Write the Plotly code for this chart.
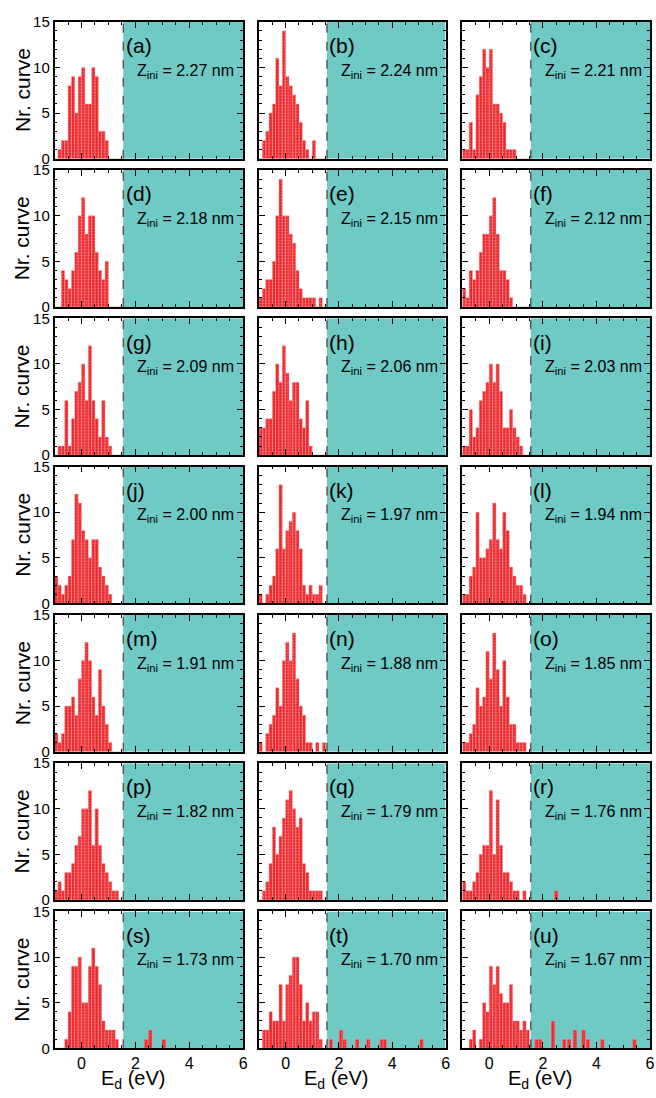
import plotly.graph_objects as go

# ---------------- data ----------------
BIN_START = -1.0          # left edge of first histogram bin (eV)
BIN_W = 0.125             # histogram bin width (eV)
OUT_W = 0.14              # width of isolated high-energy bars (eV)
E_CUT = 1.55              # dashed threshold (eV)

panel_labels = ["a", "b", "c", "d", "e", "f", "g", "h", "i", "j", "k",
                "l", "m", "n", "o", "p", "q", "r", "s", "t", "u"]
z_ini = ["2.27", "2.24", "2.21", "2.18", "2.15", "2.12", "2.09", "2.06", "2.03",
         "2.00", "1.97", "1.94", "1.91", "1.88", "1.85", "1.82", "1.79", "1.76",
         "1.73", "1.70", "1.67"]

counts_a = [0, 1, 2, 2, 8, 9, 5, 9, 10, 6, 6, 10, 9, 3, 3, 2, 0, 0, 0, 0]
counts_b = [0, 2, 3, 5, 6, 11, 8, 14, 9, 8, 7, 6, 4, 2, 1, 0, 2, 0, 0, 0]
counts_c = [1, 1, 4, 1, 7, 9, 12, 10, 12, 6, 6, 5, 4, 1, 1, 1, 0, 0, 0, 0]
counts_d = [0, 0, 4, 3, 2, 4, 6, 10, 12, 8, 10, 10, 6, 4, 3, 5, 0, 0, 0, 0]
counts_e = [1, 2, 3, 3, 5, 10, 14, 10, 10, 8, 7, 4, 2, 1, 1, 1, 1, 0, 1, 0]
counts_f = [2, 1, 4, 3, 4, 6, 8, 8, 10, 12, 8, 4, 4, 3, 1, 0, 0, 0, 0, 0]
counts_g = [0, 1, 1, 6, 1, 4, 7, 8, 10, 6, 12, 6, 4, 2, 6, 2, 1, 0, 0, 0]
counts_h = [3, 3, 4, 4, 7, 10, 8, 12, 9, 6, 8, 8, 4, 3, 6, 1, 0, 0, 0, 0]
counts_i = [1, 1, 5, 2, 3, 6, 7, 8, 10, 8, 10, 7, 3, 3, 5, 3, 2, 1, 0, 0]
counts_j = [3, 2, 1, 2, 3, 7, 12, 11, 8, 7, 5, 7, 7, 4, 3, 2, 1, 0, 0, 0]
counts_k = [1, 0, 1, 2, 3, 6, 13, 6, 8, 9, 10, 8, 6, 2, 1, 2, 1, 1, 2, 0]
counts_l = [1, 1, 3, 4, 10, 5, 5, 6, 7, 11, 7, 6, 10, 8, 4, 3, 2, 2, 1, 0]
counts_m = [2, 1, 2, 5, 5, 6, 4, 8, 10, 12, 10, 6, 4, 9, 5, 3, 1, 0, 0, 0]
counts_n = [1, 0, 2, 3, 4, 7, 5, 10, 12, 10, 13, 8, 5, 4, 1, 1, 0, 1, 0, 1]
counts_o = [1, 1, 2, 3, 7, 5, 6, 11, 8, 13, 9, 5, 10, 6, 3, 3, 1, 1, 1, 0]
counts_p = [1, 2, 1, 3, 3, 4, 6, 7, 10, 10, 12, 6, 10, 6, 4, 3, 2, 1, 1, 0]
counts_q = [0, 1, 2, 4, 8, 5, 7, 9, 11, 12, 10, 8, 9, 4, 3, 1, 1, 1, 1, 0]
counts_r = [2, 1, 1, 2, 3, 5, 6, 6, 12, 5, 11, 6, 3, 3, 2, 1, 1, 0, 1, 0]
counts_s = [0, 0, 0, 1, 4, 9, 9, 10, 5, 5, 9, 11, 9, 7, 3, 2, 2, 2, 1, 0]
counts_t = [0, 2, 2, 4, 3, 3, 7, 3, 7, 8, 10, 10, 7, 3, 5, 3, 4, 4, 1, 0]
counts_u = [0, 0, 1, 2, 0, 1, 5, 4, 9, 7, 9, 6, 5, 5, 7, 3, 3, 2, 3, 2]

# isolated bars beyond the threshold (energy, count)
outlier_E_r = [2.5]
outlier_n_r = [1]
outlier_E_s = [2.4, 2.55, 3.06]
outlier_n_s = [1, 2, 1]
outlier_E_t = [1.7, 2.08, 2.21, 2.68, 3.1, 3.6, 3.72, 5.1]
outlier_n_t = [1, 2, 1, 1, 1, 1, 1, 1]
outlier_E_u = [1.77, 1.9, 2.38, 2.8, 2.98, 3.2, 3.52, 3.68, 4.22, 5.42]
outlier_n_u = [1, 1, 3, 1, 1, 2, 2, 1, 1, 1]

all_counts = [counts_a, counts_b, counts_c, counts_d, counts_e, counts_f, counts_g,
              counts_h, counts_i, counts_j, counts_k, counts_l, counts_m, counts_n,
              counts_o, counts_p, counts_q, counts_r, counts_s, counts_t, counts_u]
outliers = {"r": (outlier_E_r, outlier_n_r), "s": (outlier_E_s, outlier_n_s),
            "t": (outlier_E_t, outlier_n_t), "u": (outlier_E_u, outlier_n_u)}

# ---------------- layout / style ----------------
W, H = 656, 1098
COL_PX = [(55, 245), (261, 449), (466, 655)]
ROW_TOP0, ROW_H, ROW_STEP = 13, 139, 150.6
FONT = "Liberation Sans, Arial, Helvetica, sans-serif"
TEAL = "#6fc9c5"
RED = "#ee2328"

fig = go.Figure()
layout_axes = {}
shapes = []
annotations = []

for idx, lab in enumerate(panel_labels):
    r, c = divmod(idx, 3)
    n = idx + 1
    xn = "x" if n == 1 else f"x{n}"
    yn = "y" if n == 1 else f"y{n}"
    cnt = all_counts[idx]
    xs = [BIN_START + BIN_W * (k + 0.5) for k in range(len(cnt))]
    ys = list(cnt)
    ws = [BIN_W] * len(cnt)
    if lab in outliers:
        oe, on = outliers[lab]
        xs += oe
        ys += on
        ws += [OUT_W] * len(oe)
    fig.add_trace(go.Bar(
        x=xs, y=ys, width=ws, xaxis=xn, yaxis=yn, showlegend=False,
        marker=dict(color=RED,
                    line=dict(color="#f7a0a2", width=0.4),
                    pattern=dict(shape=".", fgcolor="rgba(255,225,225,0.9)",
                                 size=3, solidity=0.2)),
    ))

    x0p, x1p = COL_PX[c]
    top = ROW_TOP0 + ROW_STEP * r
    bot = top + ROW_H
    xdom = [x0p / W, x1p / W]
    ydom = [1 - bot / H, 1 - top / H]
    last_row = (r == 6)
    first_col = (c == 0)
    layout_axes["xaxis" if n == 1 else f"xaxis{n}"] = dict(
        domain=xdom, anchor=yn, range=[-1, 6], showgrid=False, zeroline=False,
        showline=True, linecolor="black", linewidth=1.6, mirror="allticks",
        ticks="inside", ticklen=6, tickwidth=1.2, tickcolor="black",
        tickmode="array", tickvals=[0, 2, 4, 6], ticktext=["0", "2", "4", "6"],
        showticklabels=last_row, tickfont=dict(size=16, color="black", family=FONT),
        minor=dict(ticks="inside", ticklen=3, tickwidth=1, tickcolor="black",
                   tickvals=[-0.5, 0.5, 1, 1.5, 2.5, 3, 3.5, 4.5, 5, 5.5]),
    )
    layout_axes["yaxis" if n == 1 else f"yaxis{n}"] = dict(
        domain=ydom, anchor=xn, range=[0, 15], showgrid=False, zeroline=False,
        showline=True, linecolor="black", linewidth=1.6, mirror="allticks",
        ticks="inside", ticklen=6, tickwidth=1.2, tickcolor="black",
        tickmode="array", tickvals=[0, 5, 10, 15],
        showticklabels=first_col, tickfont=dict(size=15, color="black", family=FONT),
        minor=dict(ticks="inside", ticklen=3, tickwidth=1, tickcolor="black",
                   dtick=1),
    )

    shapes.append(dict(type="rect", xref=xn, yref=yn, x0=E_CUT, x1=6, y0=0, y1=15,
                       fillcolor=TEAL, line=dict(width=0), layer="below"))
    shapes.append(dict(type="line", xref=xn, yref=yn, x0=E_CUT, x1=E_CUT, y0=0, y1=15,
                       line=dict(color="#4a4a4a", width=1.3, dash="dash"), layer="above"))

    annotations.append(dict(xref=xn, yref=yn, x=1.56, y=12.4, text=f"({lab})",
                            showarrow=False, xanchor="left", yanchor="middle",
                            font=dict(size=21, color="black", family=FONT)))
    annotations.append(dict(xref=xn, yref=yn, x=2.0, y=9.6,
                            text=f"Z<sub>ini</sub> = {z_ini[idx]} nm",
                            showarrow=False, xanchor="left", yanchor="middle",
                            font=dict(size=16, color="black", family=FONT)))
    if first_col:
        annotations.append(dict(xref="paper", yref="paper", x=22 / W,
                                y=1 - (top + bot) / 2 / H, text="Nr. curve",
                                textangle=-90, showarrow=False,
                                xanchor="center", yanchor="middle",
                                font=dict(size=21, color="black", family=FONT)))
    if last_row:
        annotations.append(dict(xref=xn, yref="paper", x=1.9, y=0,
                                text="E<sub>d</sub> (eV)", showarrow=False,
                                xanchor="center", yanchor="bottom", yshift=-3,
                                borderpad=0,
                                font=dict(size=20, color="black", family=FONT)))

fig.update_layout(
    width=W, height=H, margin=dict(l=0, r=0, t=0, b=0),
    paper_bgcolor="white", plot_bgcolor="white",
    barmode="overlay", shapes=shapes, annotations=annotations,
    font=dict(family=FONT, color="black"),
    **layout_axes,
)

fig.write_html("out.html")
